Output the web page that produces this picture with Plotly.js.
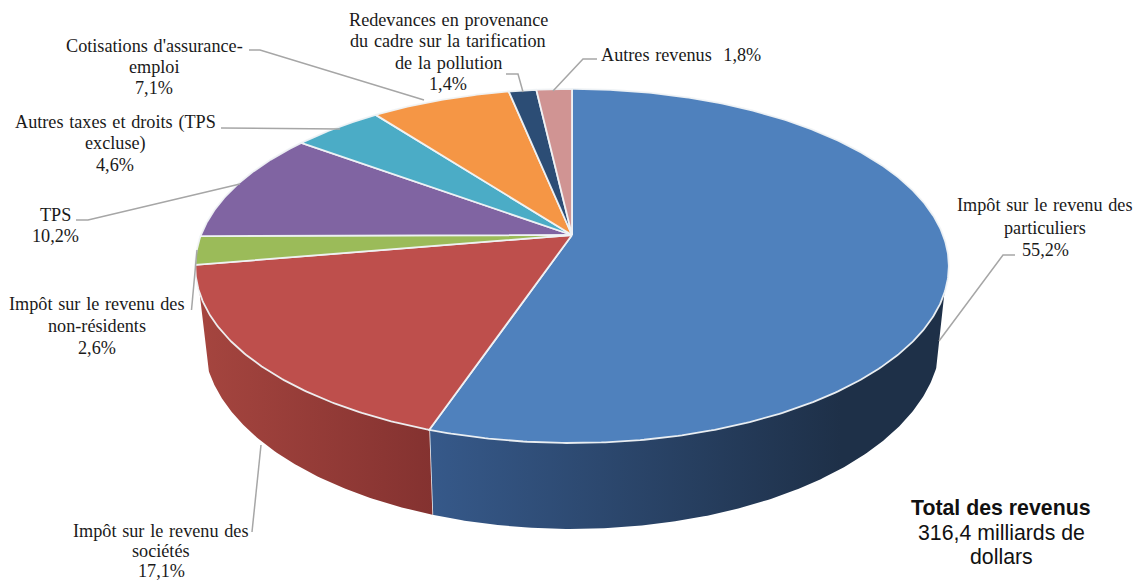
<!DOCTYPE html>
<html lang="fr">
<head>
<meta charset="utf-8">
<script src="https://cdn.plot.ly/plotly-3.0.1.min.js"></script>
<style>
html, body { margin: 0; padding: 0; background: #fff; }
#chart { width: 1136px; height: 582px; }
text.annotation-text[style*="Serif"] { word-spacing: 1.2px; }
</style>
</head>
<body>
<div id="chart"></div>
<script>
// Revenue shares, clockwise from twelve o'clock
const categories = [
  "Impôt sur le revenu des particuliers",
  "Impôt sur le revenu des sociétés",
  "Impôt sur le revenu des non-résidents",
  "TPS",
  "Autres taxes et droits (TPS exclue)",
  "Cotisations d'assurance-emploi",
  "Redevances sur la tarification de la pollution",
  "Autres revenus"
];
const shares = [55.2, 17.1, 2.6, 10.2, 4.6, 7.1, 1.4, 1.8];
const topColors = ["#4F81BD", "#BE4F4C", "#9BBB59", "#8064A2", "#4BACC6", "#F59645", "#2C4D75", "#D09493"];
const wallStart = ["#36598A", "#A5453F"];
const wallEnd = ["#1E3048", "#843230"];

// Wrapped label lines; the value line is appended from the shares
const labelLines = [
  ["Impôt sur le revenu des", "particuliers"],
  ["Impôt sur le revenu des", "sociétés"],
  ["Impôt sur le revenu des", "non-résidents"],
  ["TPS"],
  ["Autres taxes et droits (TPS", "excluse)"],
  ["Cotisations d'assurance-", "emploi"],
  ["Redevances en provenance", "du cadre sur la tarification", "de la pollution"],
  ["Autres revenus "]
];
const totalLines = ["<b>Total des revenus</b>", "316,4 milliards de", "dollars"];

// Label placement: centre x, first line y, line step
const labelPlace = [
  [1045, 205, 22.5], [161, 531, 20], [97, 304, 22], [55, 215, 21],
  [115, 122, 21.5], [154, 46, 21], [448, 20, 21.3], [681, 55, 0]
];
// Leader line bend points
const leaders = [
  [[1015, 255], [1003, 255], [939, 341]],
  [[252, 532], [261, 445]],
  [[191.5, 310], [197, 250]],
  [[76, 220], [88, 220], [240, 184]],
  [[221, 128], [340, 129]],
  [[249, 50], [260, 50], [424, 100]],
  [[506, 74], [518, 74], [523, 92]],
  [[597, 59], [583, 59], [553, 91]]
];

// Projection of the tilted disc onto the page
const CX = 572, CY = 235, RX = 371, RY = 171.6, PERSP = 0.175;
const MID_Y = 266, BASE_Y = 339, BASE_SX = 0.978, BASE_SY = 1.073;
const WALL_FROM = 108.6, WALL_TO = 251.4;

function rimPoint(deg) {
  const a = deg * Math.PI / 180, u = Math.sin(a), v = -Math.cos(a), w = 1 - PERSP * v;
  return [CX + RX * u / w, CY + RY * v / w];
}
function basePoint(deg) {
  const p = rimPoint(deg);
  return [CX + BASE_SX * (p[0] - CX), BASE_Y + BASE_SY * (p[1] - MID_Y)];
}
function arc(fn, from, to) {
  const n = Math.max(2, Math.ceil(Math.abs(to - from) * 2));
  const pts = [];
  for (let i = 0; i <= n; i++) pts.push(fn(from + (to - from) * i / n));
  return pts;
}

const traces = [];
const bevel = "rgba(240,243,246,0.95)";
let running = 0;
const spans = shares.map(s => { const f = running; running += s * 3.6; return [f, running]; });

// Side walls: only the part of each slice facing the viewer
spans.forEach((sp, i) => {
  const from = Math.max(sp[0], WALL_FROM), to = Math.min(sp[1], WALL_TO);
  if (to <= from) return;
  const pts = arc(rimPoint, from, to).concat(arc(basePoint, to, from));
  pts.push(pts[0]);
  const xs = pts.map(p => p[0]);
  const lo = Math.min(...xs), hi = Math.max(...xs);
  // The shading runs left to right on screen
  traces.push({
    type: "scatter", mode: "lines", x: xs, y: pts.map(p => p[1]),
    fill: "toself",
    fillgradient: {
      type: "horizontal", start: lo, stop: hi,
      colorscale: i === 0
        ? [[0, wallStart[0]], [0.8, wallEnd[0]], [1, wallEnd[0]]]
        : [[0, wallStart[1]], [1, wallEnd[1]]]
    },
    line: { width: 0, color: "rgba(0,0,0,0)" },
    hoverinfo: "skip", name: categories[i] + " (côté)"
  });
  // Seam between two walls
  if (sp[1] < WALL_TO && sp[1] > WALL_FROM) {
    const a = rimPoint(sp[1]), b = basePoint(sp[1]);
    traces.push({
      type: "scatter", mode: "lines", x: [a[0], b[0]], y: [a[1], b[1]],
      line: { width: 1.6, color: bevel }, hoverinfo: "skip"
    });
  }
});

// Top face slices
spans.forEach((sp, i) => {
  const pts = [[CX, CY]].concat(arc(rimPoint, sp[0], sp[1]));
  pts.push([CX, CY]);
  traces.push({
    type: "scatter", mode: "lines", x: pts.map(p => p[0]), y: pts.map(p => p[1]),
    fill: "toself", fillcolor: topColors[i],
    line: { width: 1.8, color: bevel, shape: "linear" },
    hoverinfo: "text", text: categories[i] + " " + shares[i] + " %", name: categories[i]
  });
});

// Leader lines
leaders.forEach(path => {
  traces.push({
    type: "scatter", mode: "lines",
    x: path.map(p => p[0]), y: path.map(p => p[1]),
    line: { width: 1.5, color: "#A6A6A6" }, hoverinfo: "skip"
  });
});

// Labels, one annotation per line so the leading can be set
const annotations = [];
const serif = { family: "Liberation Serif, serif", size: 18.2, color: "#1a1a1a" };
const fmt = v => v.toFixed(1).replace(".", ",") + "%";
labelLines.forEach((lines, i) => {
  const [cx, y0, step] = labelPlace[i];
  const rows = step === 0 ? [lines[0] + " " + fmt(shares[i])] : lines.concat(fmt(shares[i]));
  rows.forEach((t, k) => annotations.push({
    xref: "x", yref: "y", x: cx, y: y0 + k * step, text: t,
    showarrow: false, font: serif, xanchor: "center", yanchor: "middle"
  }));
});
totalLines.forEach((t, k) => annotations.push({
  xref: "x", yref: "y", x: 1001, y: 508 + k * 24.5, text: t,
  showarrow: false, xanchor: "center", yanchor: "middle",
  font: { family: "Liberation Sans, sans-serif", size: 21.3, color: "#111" }
}));

const hidden = { visible: false, fixedrange: true };
Plotly.newPlot("chart", traces, {
  width: 1136, height: 582,
  margin: { l: 0, r: 0, t: 0, b: 0 },
  paper_bgcolor: "#fff", plot_bgcolor: "#fff",
  showlegend: false,
  xaxis: Object.assign({ range: [0, 1136] }, hidden),
  yaxis: Object.assign({ range: [582, 0] }, hidden),
  annotations: annotations
}, { displayModeBar: false, staticPlot: false });
</script>
</body>
</html>
